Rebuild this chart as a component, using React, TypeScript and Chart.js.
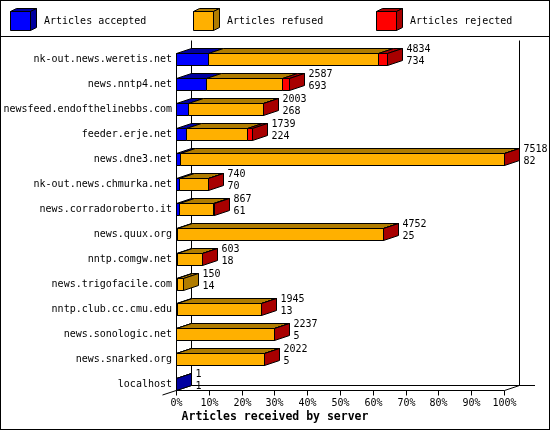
import React, { useEffect, useRef } from "react";
import { Chart, registerables } from "chart.js";

Chart.register(...registerables);

const servers = [
  "nk-out.news.weretis.net",
  "news.nntp4.net",
  "newsfeed.endofthelinebbs.com",
  "feeder.erje.net",
  "news.dne3.net",
  "nk-out.news.chmurka.net",
  "news.corradoroberto.it",
  "news.quux.org",
  "nntp.comgw.net",
  "news.trigofacile.com",
  "nntp.club.cc.cmu.edu",
  "news.sonologic.net",
  "news.snarked.org",
  "localhost",
];
const totals = [4834, 2587, 2003, 1739, 7518, 740, 867, 4752, 603, 150, 1945, 2237, 2022, 1];
const accepted = [734, 693, 268, 224, 82, 70, 61, 25, 18, 14, 13, 5, 5, 1];
const refused = [3896, 1744, 1725, 1400, 7430, 665, 796, 4724, 583, 136, 1929, 2230, 2015, 0];
const rejected = [204, 150, 10, 115, 6, 5, 10, 3, 2, 0, 3, 2, 2, 0];
const seriesNames = ["Articles accepted", "Articles refused", "Articles rejected"];
const frontColors = ["#0000ff", "#ffb000", "#ff0000"];
const darkColors = ["#0000a0", "#b07c00", "#a80000"];
const percentTicks = [0, 10, 20, 30, 40, 50, 60, 70, 80, 90, 100];
const axisTitle = "Articles received by server";

const W = 550;
const H = 430;
const DX = 15;
const DY = 5;
const HALF = 6;
const FONT = '10px "DejaVu Sans Mono", "Liberation Mono", monospace';
const BOLD = 'bold 11.5px "DejaVu Sans Mono", "Liberation Mono", monospace';

const P = (v: number) => Math.round(v) + 0.5;

function poly(ctx: CanvasRenderingContext2D, pts: number[][], fill: string | null) {
  ctx.beginPath();
  ctx.moveTo(pts[0][0], pts[0][1]);
  for (let k = 1; k < pts.length; k++) ctx.lineTo(pts[k][0], pts[k][1]);
  ctx.closePath();
  if (fill) {
    ctx.fillStyle = fill;
    ctx.fill();
  }
  ctx.strokeStyle = "#000";
  ctx.lineWidth = 1;
  ctx.stroke();
}

function line(ctx: CanvasRenderingContext2D, x0: number, y0: number, x1: number, y1: number) {
  ctx.beginPath();
  ctx.moveTo(x0, y0);
  ctx.lineTo(x1, y1);
  ctx.strokeStyle = "#000";
  ctx.lineWidth = 1;
  ctx.stroke();
}

const threeDPlugin = {
  id: "threeD",
  beforeDraw(chart: any) {
    const ctx = chart.ctx as CanvasRenderingContext2D;
    ctx.save();
    ctx.fillStyle = "#fff";
    ctx.fillRect(0, 0, W, H);
    ctx.restore();
  },
  beforeDatasetsDraw() {
    return false;
  },
  afterDraw(chart: any) {
    const ctx = chart.ctx as CanvasRenderingContext2D;
    const xs = chart.scales.x;
    const ys = chart.scales.y;
    const series = chart.data.datasets.map((d: any) => d.data as number[]);
    const maxV = xs.max;
    ctx.save();

    // outer border and legend separator
    ctx.strokeStyle = "#000";
    ctx.lineWidth = 1;
    ctx.strokeRect(0.5, 0.5, W - 1, H - 1);
    line(ctx, 0, 36.5, W, 36.5);

    // legend
    ctx.font = FONT;
    ctx.textBaseline = "middle";
    ctx.textAlign = "left";
    seriesNames.forEach((name, d) => {
      const lx = 10 + d * 183;
      const l = lx + 0.5, r = lx + 20.5, t = 11.5, b = 30.5;
      const ddx = 6, ddy = 3;
      poly(ctx, [[l, t], [r, t], [r, b], [l, b]], frontColors[d]);
      poly(ctx, [[l, t], [r, t], [r + ddx, t - ddy], [l + ddx, t - ddy]], darkColors[d]);
      poly(ctx, [[r, t], [r + ddx, t - ddy], [r + ddx, b - ddy], [r, b]], darkColors[d]);
      ctx.fillStyle = "#000";
      ctx.fillText(name, lx + 34, 21);
    });

    // axes frame
    const x0 = P(xs.getPixelForValue(0));
    const x100 = P(xs.getPixelForValue(maxV));
    const firstTop = Math.floor(ys.getPixelForValue(0) - HALF) + 0.5;
    const front = 390.5;
    const back = front - DY;
    const topBack = 40.5;
    line(ctx, x0, firstTop, x0, front);
    line(ctx, x0 + DX, topBack, x0 + DX, back);
    line(ctx, x0 + DX, back, 535, back);
    line(ctx, x100 + DX, topBack, x100 + DX, back);
    line(ctx, x0, front, x100, front);
    line(ctx, x100, front, x100 + DX, back);
    line(ctx, x0 - 14, front + 4.5, x0 + DX, back);

    // x ticks
    ctx.textAlign = "center";
    percentTicks.forEach((p) => {
      const x = P(xs.getPixelForValue((maxV * p) / 100));
      line(ctx, x, front, x, front + 5);
      ctx.fillStyle = "#000";
      ctx.fillText(p + "%", x, 403);
    });

    // axis title
    ctx.font = BOLD;
    ctx.fillText(axisTitle, 275, 417);
    ctx.font = FONT;

    // bars
    servers.forEach((name, i) => {
      const yc = ys.getPixelForValue(i);
      const top = Math.floor(yc - HALF) + 0.5;
      const bottom = Math.floor(yc + HALF) + 0.5;
      let cum = 0;
      let last = -1;
      let endX = x0;
      series.forEach((vals: number[], d: number) => {
        const v = vals[i];
        if (v > 0) {
          const a = P(xs.getPixelForValue(cum));
          const b = P(xs.getPixelForValue(cum + v));
          poly(ctx, [[a, top], [b, top], [b, bottom], [a, bottom]], frontColors[d]);
          poly(ctx, [[a, top], [b, top], [b + DX, top - DY], [a + DX, top - DY]], darkColors[d]);
          last = d;
          endX = b;
        }
        cum += v;
      });
      if (last >= 0) {
        poly(ctx, [[endX, top], [endX + DX, top - DY], [endX + DX, bottom - DY], [endX, bottom]], darkColors[last]);
      }
      ctx.fillStyle = "#000";
      ctx.textAlign = "right";
      ctx.fillText(name, 172, yc);
      ctx.textAlign = "left";
      ctx.fillText(String(totals[i]), endX + DX + 4, yc - 10);
      ctx.fillText(String(accepted[i]), endX + DX + 4, yc + 2);
    });

    ctx.restore();
  },
};

export default function App() {
  const ref = useRef<HTMLCanvasElement | null>(null);
  useEffect(() => {
    if (!ref.current) return;
    const chart = new Chart(ref.current, {
      type: "bar",
      data: {
        labels: servers,
        datasets: [
          { label: seriesNames[0], data: accepted, backgroundColor: frontColors[0] },
          { label: seriesNames[1], data: refused, backgroundColor: frontColors[1] },
          { label: seriesNames[2], data: rejected, backgroundColor: frontColors[2] },
        ],
      },
      options: {
        indexAxis: "y",
        animation: false,
        responsive: false,
        devicePixelRatio: 1,
        layout: { padding: { left: 176, right: 46, top: 47, bottom: 33 } },
        plugins: { legend: { display: false }, tooltip: { enabled: false } },
        scales: {
          x: { type: "linear", stacked: true, min: 0, max: Math.max(...totals), display: false },
          y: { type: "category", stacked: true, offset: true, display: false },
        },
      },
      plugins: [threeDPlugin],
    } as any);
    return () => chart.destroy();
  }, []);
  return (
    <div style={{ position: "absolute", left: 0, top: 0, width: W, height: H }}>
      <canvas ref={ref} width={W} height={H} style={{ display: "block" }} />
    </div>
  );
}
